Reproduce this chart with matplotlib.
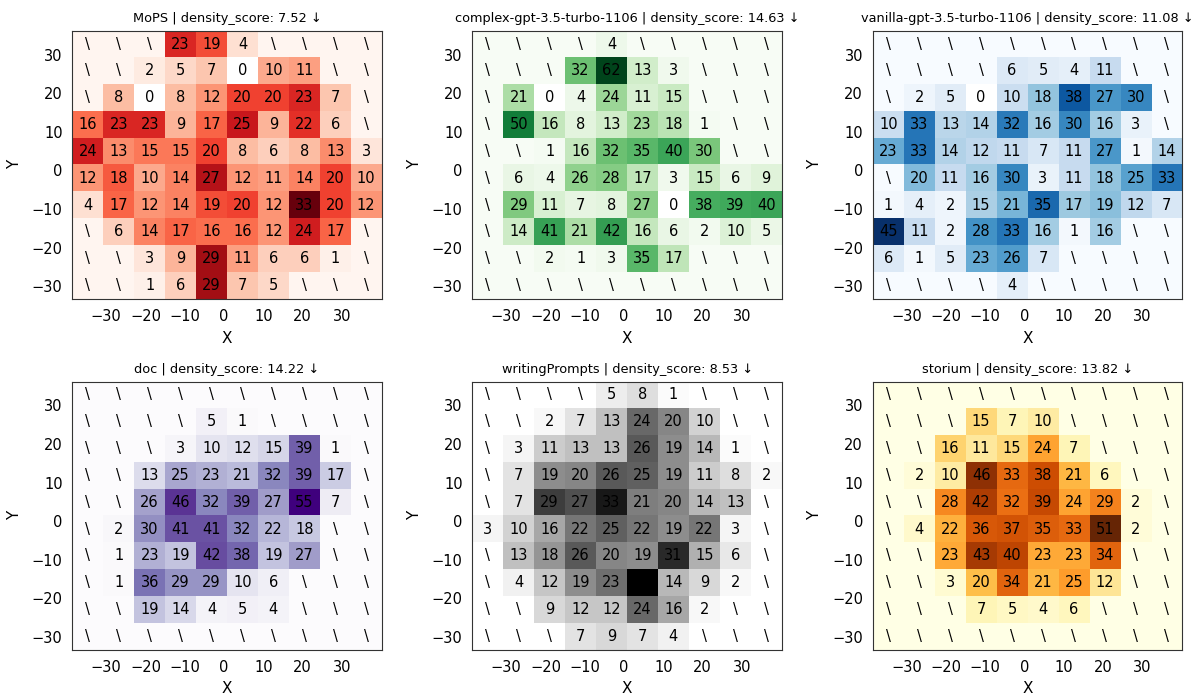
import numpy as np
import matplotlib.pyplot as plt

N = None  # empty bin, drawn as "\"

mops = [
    [N, N, N, 23, 19, 4, N, N, N, N],
    [N, N, 2, 5, 7, 0, 10, 11, N, N],
    [N, 8, 0, 8, 12, 20, 20, 23, 7, N],
    [16, 23, 23, 9, 17, 25, 9, 22, 6, N],
    [24, 13, 15, 15, 20, 8, 6, 8, 13, 3],
    [12, 18, 10, 14, 27, 12, 11, 14, 20, 10],
    [4, 17, 12, 14, 19, 20, 12, 33, 20, 12],
    [N, 6, 14, 17, 16, 16, 12, 24, 17, N],
    [N, N, 3, 9, 29, 11, 6, 6, 1, N],
    [N, N, 1, 6, 29, 7, 5, N, N, N],
]

complex_gpt = [
    [N, N, N, N, 4, N, N, N, N, N],
    [N, N, N, 32, 62, 13, 3, N, N, N],
    [N, 21, 0, 4, 24, 11, 15, N, N, N],
    [N, 50, 16, 8, 13, 23, 18, 1, N, N],
    [N, N, 1, 16, 32, 35, 40, 30, N, N],
    [N, 6, 4, 26, 28, 17, 3, 15, 6, 9],
    [N, 29, 11, 7, 8, 27, 0, 38, 39, 40],
    [N, 14, 41, 21, 42, 16, 6, 2, 10, 5],
    [N, N, 2, 1, 3, 35, 17, N, N, N],
    [N, N, N, N, N, N, N, N, N, N],
]

vanilla_gpt = [
    [N, N, N, N, N, N, N, N, N, N],
    [N, N, N, N, 6, 5, 4, 11, N, N],
    [N, 2, 5, 0, 10, 18, 38, 27, 30, N],
    [10, 33, 13, 14, 32, 16, 30, 16, 3, N],
    [23, 33, 14, 12, 11, 7, 11, 27, 1, 14],
    [N, 20, 11, 16, 30, 3, 11, 18, 25, 33],
    [1, 4, 2, 15, 21, 35, 17, 19, 12, 7],
    [45, 11, 2, 28, 33, 16, 1, 16, N, N],
    [6, 1, 5, 23, 26, 7, N, N, N, N],
    [N, N, N, N, 4, N, N, N, N, N],
]

doc = [
    [N, N, N, N, N, N, N, N, N, N],
    [N, N, N, N, 5, 1, N, N, N, N],
    [N, N, N, 3, 10, 12, 15, 39, 1, N],
    [N, N, 13, 25, 23, 21, 32, 39, 17, N],
    [N, N, 26, 46, 32, 39, 27, 55, 7, N],
    [N, 2, 30, 41, 41, 32, 22, 18, N, N],
    [N, 1, 23, 19, 42, 38, 19, 27, N, N],
    [N, 1, 36, 29, 29, 10, 6, N, N, N],
    [N, N, 19, 14, 4, 5, 4, N, N, N],
    [N, N, N, N, N, N, N, N, N, N],
]

writing_prompts = [
    [N, N, N, N, 5, 8, 1, N, N, N],
    [N, N, 2, 7, 13, 24, 20, 10, N, N],
    [N, 3, 11, 13, 13, 26, 19, 14, 1, N],
    [N, 7, 19, 20, 26, 25, 19, 11, 8, 2],
    [N, 7, 29, 27, 33, 21, 20, 14, 13, N],
    [3, 10, 16, 22, 25, 22, 19, 22, 3, N],
    [N, 13, 18, 26, 20, 19, 31, 15, 6, N],
    [N, 4, 12, 19, 23, 36, 14, 9, 2, N],
    [N, N, 9, 12, 12, 24, 16, 2, N, N],
    [N, N, N, 7, 9, 7, 4, N, N, N],
]

storium = [
    [N, N, N, N, N, N, N, N, N, N],
    [N, N, N, 15, 7, 10, N, N, N, N],
    [N, N, 16, 11, 15, 24, 7, N, N, N],
    [N, 2, 10, 46, 33, 38, 21, 6, N, N],
    [N, N, 28, 42, 32, 39, 24, 29, 2, N],
    [N, 4, 22, 36, 37, 35, 33, 51, 2, N],
    [N, N, 23, 43, 40, 23, 23, 34, N, N],
    [N, N, 3, 20, 34, 21, 25, 12, N, N],
    [N, N, N, 7, 5, 4, 6, N, N, N],
    [N, N, N, N, N, N, N, N, N, N],
]

names = ['MoPS', 'complex-gpt-3.5-turbo-1106', 'vanilla-gpt-3.5-turbo-1106',
         'doc', 'writingPrompts', 'storium']
scores = [7.52, 14.63, 11.08, 14.22, 8.53, 13.82]
cmaps = ['Reds', 'Greens', 'Blues', 'Purples', 'Greys', 'YlOrBr']
grids = [mops, complex_gpt, vanilla_gpt, doc, writing_prompts, storium]

x_range = (-38.6, 40.1)
y_range = (-33.3, 36.2)
ticks = [-30, -20, -10, 0, 10, 20, 30]

W, H = 1203, 696
fig = plt.figure(figsize=(W / 100, H / 100), dpi=100)
lefts = [72.3, 472.3, 872.8]
tops = [30.7, 381.5]
aw, ah = 309.4, 268.3

for i, grid in enumerate(grids):
    r, c = divmod(i, 3)
    ax = fig.add_axes([lefts[c] / W, 1 - (tops[r] + ah) / H, aw / W, ah / H])
    vals = np.array([[np.nan if v is None else v for v in row] for row in grid], float)
    colour = np.where(np.isnan(vals), 0, vals)
    colour[vals == 0] = np.nan  # zero-valued bins show up white
    ax.imshow(colour, cmap=cmaps[i], vmin=0, aspect='auto', interpolation='nearest',
              extent=[x_range[0], x_range[1], y_range[0], y_range[1]])

    nr, nc = vals.shape
    dx = (x_range[1] - x_range[0]) / nc
    dy = (y_range[1] - y_range[0]) / nr
    for ri in range(nr):
        for ci in range(nc):
            v = grid[ri][ci]
            txt = '\\' if v is None else str(v)
            ax.text(x_range[0] + (ci + 0.5) * dx, y_range[1] - (ri + 0.5) * dy, txt,
                    ha='center', va='center', fontsize=10.5, color='black')

    ax.set_xticks(ticks)
    ax.set_yticks(ticks)
    ax.tick_params(bottom=False, left=False, labelsize=10.5)
    ax.set_xlim(*x_range)
    ax.set_ylim(*y_range)
    for s in ax.spines.values():
        s.set_color('0.2')
    ax.set_xlabel('X', fontsize=11, labelpad=5)
    ax.set_ylabel('Y', fontsize=11, labelpad=7)
    ax.set_title(f'{names[i]} | density_score: {scores[i]:.2f} \u2193', fontsize=9.3)

fig.savefig('out.png', dpi=100)
